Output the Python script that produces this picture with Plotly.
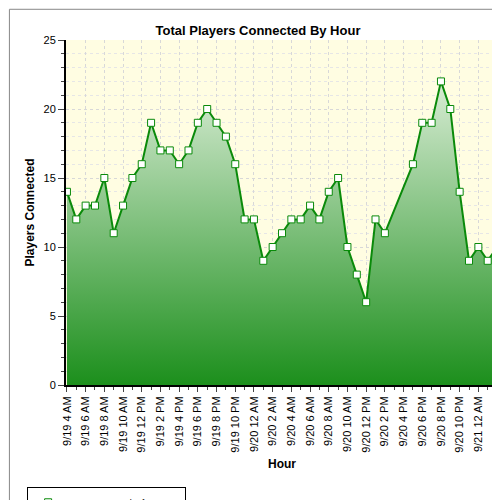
import plotly.graph_objects as go

hours = list(range(0, 35)) + list(range(37, 47))
players = [14, 12, 13, 13, 15, 11, 13, 15, 16, 19, 17, 17, 16, 17, 19, 20, 19, 18, 16, 12,
           12, 9, 10, 11, 12, 12, 13, 12, 14, 15, 10, 8, 6, 12, 11,
           16, 19, 19, 22, 20, 14, 9, 10, 9, 10]
tick_labels = ['9/19 4 AM', '9/19 6 AM', '9/19 8 AM', '9/19 10 AM', '9/19 12 PM', '9/19 2 PM',
               '9/19 4 PM', '9/19 6 PM', '9/19 8 PM', '9/19 10 PM', '9/20 12 AM', '9/20 2 AM',
               '9/20 4 AM', '9/20 6 AM', '9/20 8 AM', '9/20 10 AM', '9/20 12 PM', '9/20 2 PM',
               '9/20 4 PM', '9/20 6 PM', '9/20 8 PM', '9/20 10 PM', '9/21 12 AM', '9/21 2 AM']

fig = go.Figure()
fig.add_trace(go.Scatter(
    x=hours, y=players, mode='lines+markers', name='Star Wars: Mask of Tyranny',
    line=dict(color='#0a8a0a', width=2),
    marker=dict(symbol='square', size=7, color='white', line=dict(color='#0a8a0a', width=1)),
    fill='tozeroy',
    fillgradient=dict(type='vertical', colorscale=[[0, '#1c8f1c'], [1, '#d8ecd4']]),
))

fig.update_layout(
    width=500, height=500,
    margin=dict(l=58, r=10, t=32, b=123, autoexpand=False),
    paper_bgcolor='white', plot_bgcolor='#fffde2',
    font=dict(family='Liberation Sans, Arial', size=11, color='black'),
    title=dict(text='<b>Total Players Connected By Hour</b>', x=0.5, y=0.965, font=dict(size=13)),
    showlegend=True,
    legend=dict(x=-0.09, y=-0.295, xanchor='left', yanchor='top', bordercolor='black', borderwidth=1,
                font=dict(size=9), bgcolor='white'),
    shapes=[dict(type='rect', xref='paper', yref='paper', x0=-0.131, x1=1.018, y0=-0.353, y1=1.089,
                 line=dict(color='#888', width=1))],
)
fig.update_xaxes(range=[-0.1, 46.1], tickvals=list(range(0, 47, 2)), ticktext=tick_labels,
                 tickangle=-90, ticks='outside', ticklen=5, showgrid=True, gridcolor='#d8d8d8',
                 griddash='dot', showline=True, linecolor='black', linewidth=2, zeroline=False,
                 automargin=False, title=dict(text='<b>Hour</b>', standoff=8, font=dict(size=12)),
                 tickfont=dict(size=11), minor=dict(ticks='outside', ticklen=3, dtick=1))
fig.update_yaxes(range=[0, 25], dtick=5, ticks='outside', ticklen=6, showgrid=True,
                 gridcolor='#d8d8d8', griddash='dot', showline=True, linecolor='black', linewidth=2,
                 zeroline=False, automargin=False,
                 title=dict(text='<b>Players Connected</b>', standoff=6, font=dict(size=12)),
                 minor=dict(ticks='outside', ticklen=3, dtick=1, showgrid=True, gridcolor='#e6e6e6', griddash='dot'))
fig.write_html('out.html')
